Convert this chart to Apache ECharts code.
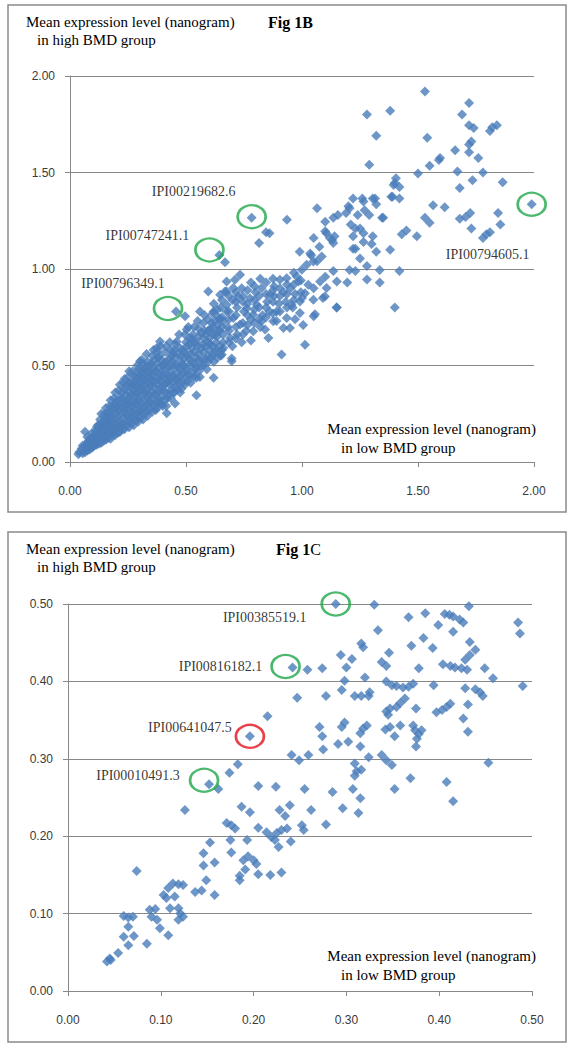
<!DOCTYPE html>
<html><head><meta charset="utf-8">
<script src="https://cdn.jsdelivr.net/npm/echarts@6/dist/echarts.min.js"></script>
<style>html,body{margin:0;padding:0;background:#fff}#c{width:574px;height:1050px}</style>
</head><body><div id="c"></div>
<script>
// ---------- DATA ----------
// Fig 1B: [low BMD group, high BMD group] mean expression (nanogram)
const fig1B_points = [
[1.53,1.92],[1.72,1.86],[1.69,1.80],[1.72,1.745],[1.74,1.73],[1.28,1.80],[1.38,1.82],[1.32,1.69],[1.54,1.68],[1.82,1.735],[1.84,1.745],[1.81,1.715],
[1.66,1.615],[1.72,1.645],[1.73,1.66],[1.72,1.605],[1.76,1.575],[1.595,1.575],[1.59,1.565],[1.55,1.535],[1.29,1.54],[1.50,1.495],[1.67,1.505],[1.78,1.50],[1.865,1.45],[1.735,1.46],[1.68,1.42],
[1.405,1.47],[1.40,1.445],[1.42,1.425],[1.39,1.375],[1.42,1.365],[1.395,1.435],[1.385,1.375],[1.565,1.33],[1.615,1.32],[1.99,1.335],[1.845,1.29],[1.855,1.23],[1.725,1.29],[1.705,1.27],[1.68,1.26],[1.73,1.21],[1.795,1.18],[1.81,1.19],[1.78,1.16],[1.53,1.265],[1.55,1.24],[1.45,1.20],[1.43,1.18],[1.495,1.17],
[1.22,1.365],[1.26,1.365],[1.315,1.365],[1.32,1.335],[1.29,1.28],[1.345,1.265],[1.205,1.315],[1.19,1.29],[1.065,1.315],[0.935,1.255],[1.10,1.245],[1.135,1.265],[1.155,1.28],[1.21,1.23],[1.23,1.21],[1.25,1.21],[1.24,1.28],[1.27,1.305],[1.265,1.35],[1.305,1.365],[1.20,1.325],[1.35,1.265],
[1.05,1.16],[1.105,1.185],[1.12,1.16],[1.135,1.135],[1.22,1.17],[1.265,1.14],[1.30,1.13],[1.32,1.09],[1.38,1.10],[1.265,1.185],[1.305,1.17],[1.22,1.105],
[1.42,0.99],[1.25,1.055],[1.23,1.105],[0.99,1.09],[1.04,1.07],[1.085,1.065],[1.065,1.04],[1.035,1.08],[1.075,1.115],[1.10,1.195],[1.13,1.15],[1.14,1.17],
[1.205,0.995],[1.23,0.99],[1.28,0.945],[1.335,0.995],[1.335,0.93],[1.195,0.93],[1.28,1.015],[1.40,0.80],[1.15,0.80],[1.09,0.85],[1.05,0.90],[1.05,0.755],[1.10,0.96],[1.135,0.99],[1.15,0.935],[1.005,0.71],
[0.783,1.266],[0.86,1.185],[0.845,1.19],[0.815,1.135],[0.644,1.073],[0.668,1.035],
[0.733,0.97],[0.711,0.944],[0.675,0.935],[0.668,0.884],[0.704,0.901],[0.725,0.858],[0.776,0.849],[0.826,0.901],[0.862,0.867],[0.905,0.944],[0.934,0.952],[0.977,0.961],[0.999,0.996],[1.02,1.022],[1.049,1.039],[0.984,0.935],[1.027,0.918],[1.078,0.935],[1.106,0.901],[1.099,0.858],[1.149,0.801],[1.013,0.875],[1.049,0.841],[0.991,0.832],[0.955,0.815],[0.991,0.772],[1.056,0.766],[0.934,0.746],[0.92,0.694],[0.948,0.694],[1.013,0.608],[0.912,0.557],[0.855,0.642],[0.826,0.729],[0.79,0.763],[0.762,0.797],[0.805,0.815],[0.891,0.78],[0.876,0.729],[0.841,0.686],[0.79,0.677],[0.733,0.712],[0.704,0.746],[0.675,0.815],[0.661,0.729],[0.69,0.642],[0.661,0.591],[0.697,0.522],[0.654,0.557],
[0.80,0.88],[0.85,0.83],[0.88,0.86],[0.92,0.88],[0.95,0.90],[0.97,0.87],[0.90,0.82],[0.86,0.78],[0.83,0.76],[0.78,0.74],[0.75,0.78],[0.72,0.80],[0.70,0.84],[0.74,0.90],[0.78,0.93],[0.82,0.95],[0.88,0.91],[0.93,0.83],[0.96,0.80],[1.0,0.85],[0.97,0.74],[0.89,0.73],[0.82,0.70],[0.76,0.68],[0.72,0.66],[0.70,0.60],[0.74,0.62],[0.78,0.63],[0.68,0.70],[0.64,0.68],[0.63,0.62],[0.66,0.66],
[0.596,0.884],[0.647,0.867],[0.675,0.884],[0.56,0.78],[0.496,0.755],[0.503,0.686],[0.46,0.625],[0.388,0.625],[0.374,0.591],[0.302,0.522],[0.619,0.78],[0.675,0.78],[0.545,0.436],[0.619,0.436],[0.545,0.346],[0.453,0.303],[0.417,0.252],[0.697,0.536],[0.065,0.157],[0.036,0.04],[0.457,0.78],
[0.04,0.05],[0.05,0.07],[0.06,0.06],[0.07,0.09],[0.08,0.07],[0.08,0.11],[0.09,0.10],[0.10,0.13],[0.10,0.08],[0.11,0.16],[0.12,0.11],[0.12,0.19],
[0.13,0.14],[0.13,0.22],[0.14,0.18],[0.15,0.12],[0.15,0.25],[0.16,0.16],[0.16,0.21],[0.17,0.29],[0.17,0.14],[0.18,0.19],[0.18,0.24],[0.19,0.33],[0.19,0.16],[0.20,0.22],[0.20,0.28],[0.21,0.37],[0.21,0.18],
[0.22,0.25],[0.22,0.31],[0.23,0.41],[0.23,0.20],[0.24,0.28],[0.24,0.35],[0.25,0.44],[0.25,0.23],[0.26,0.31],[0.26,0.39],[0.27,0.47],[0.27,0.26],[0.28,0.34],[0.28,0.42],[0.29,0.22],[0.29,0.50],[0.30,0.29],[0.30,0.37],[0.30,0.45],
[0.31,0.25],[0.31,0.53],[0.32,0.32],[0.32,0.40],[0.32,0.48],[0.33,0.27],[0.33,0.56],[0.34,0.35],[0.34,0.44],[0.35,0.51],[0.35,0.30],[0.36,0.39],[0.36,0.58],[0.37,0.47],[0.37,0.27],[0.38,0.33],[0.38,0.54],[0.39,0.42],[0.39,0.60],[0.40,0.37],[0.40,0.50],[0.40,0.29],
[0.41,0.57],[0.42,0.45],[0.42,0.33],[0.43,0.62],[0.43,0.40],[0.44,0.52],[0.45,0.36],[0.45,0.58],[0.46,0.46],[0.47,0.41],[0.47,0.66],[0.48,0.55],[0.48,0.38],[0.49,0.50],[0.50,0.62],[0.50,0.44],[0.51,0.70],
[0.52,0.41],[0.52,0.56],[0.53,0.66],[0.54,0.48],[0.55,0.73],[0.55,0.60],[0.56,0.44],[0.57,0.53],[0.58,0.68],[0.58,0.76],[0.59,0.48],[0.60,0.58],[0.60,0.64],[0.61,0.72],[0.62,0.52],[0.62,0.82],[0.63,0.58],[0.64,0.75],[0.65,0.55],[0.65,0.80],[0.66,0.62],
[0.055,0.045],[0.055,0.085],[0.075,0.06],[0.075,0.10],[0.075,0.13],[0.095,0.075],[0.095,0.115],[0.095,0.15],[0.115,0.09],[0.115,0.13],[0.115,0.18],
[0.135,0.10],[0.135,0.16],[0.135,0.20],[0.135,0.25],[0.155,0.115],[0.155,0.145],[0.155,0.19],[0.155,0.23],[0.155,0.28],[0.175,0.12],[0.175,0.165],[0.175,0.21],[0.175,0.26],[0.175,0.32],
[0.195,0.14],[0.195,0.19],[0.195,0.25],[0.195,0.30],[0.195,0.36],[0.215,0.155],[0.215,0.21],[0.215,0.27],[0.215,0.33],[0.215,0.40],
[0.235,0.17],[0.235,0.23],[0.235,0.26],[0.235,0.30],[0.235,0.38],[0.235,0.43],[0.255,0.18],[0.255,0.21],[0.255,0.27],[0.255,0.33],[0.255,0.36],[0.255,0.41],[0.255,0.47],
[0.275,0.19],[0.275,0.24],[0.275,0.29],[0.275,0.31],[0.275,0.37],[0.275,0.40],[0.275,0.45],[0.295,0.21],[0.295,0.26],[0.295,0.32],[0.295,0.34],[0.295,0.40],[0.295,0.43],[0.295,0.48],
[0.315,0.22],[0.315,0.28],[0.315,0.35],[0.315,0.37],[0.315,0.43],[0.315,0.46],[0.315,0.51],[0.335,0.24],[0.335,0.30],[0.335,0.33],[0.335,0.38],[0.335,0.41],[0.335,0.47],[0.335,0.52],
[0.355,0.26],[0.355,0.33],[0.355,0.36],[0.355,0.42],[0.355,0.45],[0.355,0.48],[0.355,0.55],[0.375,0.28],[0.375,0.31],[0.375,0.36],[0.375,0.40],[0.375,0.44],[0.375,0.51],[0.375,0.57],
[0.395,0.30],[0.395,0.34],[0.395,0.39],[0.395,0.45],[0.395,0.47],[0.395,0.53],[0.415,0.29],[0.415,0.36],[0.415,0.41],[0.415,0.43],[0.415,0.49],[0.415,0.52],[0.415,0.60],
[0.435,0.33],[0.435,0.37],[0.435,0.44],[0.435,0.47],[0.435,0.55],[0.435,0.58],[0.455,0.39],[0.455,0.43],[0.455,0.50],[0.455,0.54],[0.455,0.61],[0.475,0.36],[0.475,0.44],[0.475,0.48],[0.475,0.52],[0.475,0.59],
[0.495,0.40],[0.495,0.47],[0.495,0.54],[0.495,0.57],[0.495,0.66],[0.515,0.45],[0.515,0.50],[0.515,0.53],[0.515,0.61],[0.515,0.64],[0.535,0.44],[0.535,0.51],[0.535,0.57],[0.535,0.62],[0.535,0.70],
[0.555,0.47],[0.555,0.53],[0.555,0.56],[0.555,0.65],[0.555,0.69],[0.575,0.50],[0.575,0.57],[0.575,0.61],[0.575,0.64],[0.575,0.72],[0.595,0.52],[0.595,0.55],[0.595,0.62],[0.595,0.68],[0.595,0.74],
[0.615,0.55],[0.615,0.60],[0.615,0.66],[0.615,0.70],[0.615,0.77],[0.635,0.54],[0.635,0.65],[0.635,0.71],[0.635,0.79],[0.655,0.58],[0.655,0.70],[0.655,0.75],[0.655,0.84],
[0.685,0.62],[0.685,0.68],[0.685,0.74],[0.685,0.78],[0.685,0.86],[0.715,0.64],[0.715,0.70],[0.715,0.76],[0.715,0.83],[0.715,0.88],[0.745,0.66],[0.745,0.72],[0.745,0.83],[0.745,0.86],
[0.765,0.71],[0.765,0.76],[0.765,0.82],[0.765,0.89],[0.795,0.72],[0.795,0.79],[0.795,0.84],[0.795,0.91],[0.815,0.74],[0.815,0.80],[0.815,0.86],
[0.845,0.75],[0.845,0.80],[0.845,0.87],[0.845,0.93],[0.875,0.77],[0.875,0.83],[0.875,0.89],[0.875,0.95],[0.905,0.78],[0.905,0.86],[0.905,0.90],
[0.935,0.80],[0.935,0.87],[0.935,0.92],[0.965,0.84],[0.965,0.92],[0.965,0.98],[0.995,0.88],[0.995,0.94],
[0.065,0.05],[0.065,0.075],[0.085,0.065],[0.085,0.09],[0.085,0.12],[0.105,0.085],[0.105,0.105],[0.105,0.14],[0.125,0.095],[0.125,0.125],[0.125,0.155],[0.125,0.175],
[0.145,0.11],[0.145,0.14],[0.145,0.165],[0.145,0.21],[0.165,0.125],[0.165,0.15],[0.165,0.185],[0.165,0.235],[0.165,0.26],[0.185,0.14],[0.185,0.17],[0.185,0.215],[0.185,0.27],[0.185,0.29],
[0.205,0.15],[0.205,0.18],[0.205,0.24],[0.205,0.29],[0.205,0.32],[0.225,0.17],[0.225,0.20],[0.225,0.28],[0.225,0.33],[0.225,0.36],[0.245,0.19],[0.245,0.245],[0.245,0.30],[0.245,0.32],[0.245,0.39],
[0.265,0.20],[0.265,0.23],[0.265,0.285],[0.265,0.35],[0.265,0.41],[0.285,0.215],[0.285,0.255],[0.285,0.30],[0.285,0.36],[0.285,0.385],[0.285,0.44],
[0.305,0.23],[0.305,0.27],[0.305,0.31],[0.305,0.39],[0.305,0.415],[0.305,0.47],[0.325,0.25],[0.325,0.29],[0.325,0.36],[0.325,0.42],[0.325,0.45],[0.325,0.49],
[0.345,0.27],[0.345,0.315],[0.345,0.39],[0.345,0.43],[0.345,0.46],[0.345,0.50],[0.365,0.29],[0.365,0.35],[0.365,0.415],[0.365,0.47],[0.365,0.53],
[0.385,0.31],[0.385,0.37],[0.385,0.43],[0.385,0.49],[0.385,0.55],[0.405,0.32],[0.405,0.395],[0.405,0.455],[0.405,0.51],[0.425,0.35],[0.425,0.42],[0.425,0.49],[0.425,0.53],
[0.445,0.36],[0.445,0.41],[0.445,0.45],[0.445,0.50],[0.445,0.56],[0.465,0.38],[0.465,0.43],[0.465,0.49],[0.465,0.56],[0.485,0.41],[0.485,0.46],[0.485,0.51],[0.485,0.58],
[0.505,0.42],[0.505,0.48],[0.505,0.55],[0.505,0.60],[0.525,0.46],[0.525,0.52],[0.525,0.59],[0.525,0.64],[0.545,0.49],[0.545,0.54],[0.545,0.62],[0.565,0.50],[0.565,0.59],[0.565,0.67],
[0.585,0.53],[0.585,0.60],[0.585,0.66],[0.605,0.54],[0.605,0.61],[0.605,0.69],[0.625,0.57],[0.625,0.66],[0.625,0.73],[0.645,0.60],[0.645,0.68],[0.645,0.74]
];
const fig1B_ticks = [0, 0.5, 1.0, 1.5, 2.0];
const fig1B_callouts = ['IPI00219682.6', 'IPI00747241.1', 'IPI00796349.1', 'IPI00794605.1'];
const fig1B_calloutLow = [0.783, 0.644, 0.457, 1.99];
const fig1B_calloutHigh = [1.266, 1.073, 0.78, 1.335];
const fig1B_calloutColor = ['green', 'green', 'green', 'green'];

// Fig 1C
const fig1C_points = [
[0.242,0.418],[0.247,0.379],[0.215,0.355],[0.196,0.329],[0.241,0.305],[0.249,0.298],[0.183,0.293],[0.174,0.282],[0.152,0.267],[0.162,0.261],[0.205,0.265],[0.224,0.264],[0.126,0.234],[0.187,0.238],[0.196,0.231],[0.239,0.240],[0.228,0.234],[0.234,0.226],[0.171,0.217],[0.176,0.214],[0.180,0.210],[0.205,0.211],[0.214,0.205],[0.219,0.199],[0.225,0.204],[0.230,0.208],[0.236,0.210],[0.240,0.193],[0.223,0.195],[0.153,0.192],[0.175,0.195],[0.193,0.195],[0.146,0.178],[0.176,0.179],[0.227,0.186],[0.146,0.162],[0.158,0.166],[0.189,0.169],[0.194,0.174],[0.200,0.169],[0.203,0.164],[0.191,0.157],[0.205,0.151],[0.218,0.150],[0.230,0.153],[0.185,0.149],[0.185,0.143],[0.074,0.155],[0.113,0.139],[0.119,0.138],[0.124,0.137],[0.108,0.133],[0.149,0.143],[0.144,0.130],[0.137,0.128],[0.158,0.124],[0.103,0.124],[0.106,0.120],[0.115,0.122],[0.110,0.107],[0.119,0.107],[0.121,0.100],[0.124,0.096],[0.119,0.092],[0.088,0.105],[0.094,0.106],[0.090,0.096],[0.096,0.092],[0.099,0.081],[0.108,0.072],[0.060,0.097],[0.065,0.095],[0.070,0.096],[0.065,0.083],[0.060,0.070],[0.071,0.071],[0.065,0.059],[0.085,0.061],[0.054,0.049],[0.045,0.042],[0.042,0.038],[0.046,0.040],
[0.2885,0.500],[0.330,0.499],[0.432,0.497],[0.367,0.483],[0.385,0.488],[0.406,0.487],[0.411,0.486],[0.415,0.484],[0.422,0.480],[0.426,0.476],[0.399,0.473],[0.415,0.464],[0.334,0.466],[0.485,0.476],[0.487,0.462],[0.383,0.456],[0.370,0.446],[0.393,0.443],[0.316,0.449],[0.318,0.444],[0.433,0.451],[0.439,0.441],[0.433,0.434],[0.428,0.428],[0.346,0.437],[0.338,0.425],[0.343,0.420],[0.294,0.434],[0.306,0.429],[0.300,0.418],[0.258,0.415],[0.274,0.417],[0.378,0.417],[0.404,0.422],[0.412,0.420],[0.417,0.418],[0.424,0.417],[0.430,0.415],[0.449,0.417],[0.458,0.404],[0.320,0.405],[0.298,0.401],[0.295,0.389],[0.343,0.400],[0.349,0.395],[0.354,0.394],[0.361,0.392],[0.367,0.393],[0.372,0.397],[0.394,0.395],[0.428,0.391],[0.439,0.390],[0.444,0.386],[0.447,0.381],[0.490,0.394],
[0.278,0.381],[0.309,0.381],[0.316,0.381],[0.324,0.381],[0.325,0.386],[0.363,0.378],[0.358,0.372],[0.354,0.367],[0.347,0.365],[0.343,0.361],[0.345,0.357],[0.375,0.365],[0.397,0.360],[0.403,0.363],[0.408,0.367],[0.412,0.371],[0.431,0.370],[0.426,0.352],[0.431,0.335],[0.271,0.341],[0.295,0.341],[0.298,0.347],[0.274,0.329],[0.275,0.312],[0.291,0.319],[0.302,0.322],[0.315,0.333],[0.318,0.339],[0.322,0.343],[0.342,0.338],[0.347,0.341],[0.352,0.329],[0.358,0.343],[0.372,0.343],[0.374,0.337],[0.378,0.332],[0.381,0.337],[0.376,0.326],[0.375,0.316],[0.315,0.316],[0.259,0.305],[0.324,0.302],[0.338,0.305],[0.343,0.298],[0.349,0.292],[0.309,0.294],[0.311,0.284],[0.316,0.286],[0.309,0.278],[0.453,0.295],[0.408,0.270],[0.415,0.245],[0.369,0.275],[0.352,0.261],[0.255,0.261],[0.285,0.257],[0.307,0.261],[0.315,0.249],[0.262,0.234],[0.296,0.236],[0.313,0.230],[0.252,0.214],[0.254,0.208],[0.278,0.215]
];
const fig1C_ticksX = [0, 0.1, 0.2, 0.3, 0.4, 0.5];
const fig1C_ticksY = [0, 0.1, 0.2, 0.3, 0.4, 0.5];
const fig1C_callouts = ['IPI00385519.1', 'IPI00816182.1', 'IPI00641047.5', 'IPI00010491.3'];
const fig1C_calloutLow = [0.2885, 0.242, 0.196, 0.152];
const fig1C_calloutHigh = [0.500, 0.418, 0.329, 0.267];
const fig1C_calloutColor = ['green', 'green', 'red', 'green'];

const axisTitleX = ['Mean expression level (nanogram)', 'in low BMD group'];
const axisTitleY = ['Mean expression level (nanogram)', 'in high BMD group'];

// ---------- STYLE / LAYOUT ----------
const BLUE = '#4a7dba';
const GRID = '#888888';
const RING = { green: '#1fa64a', red: '#e3121b' };
const fig1B_ringOffset = [[0,-1],[-10,-5],[-8,-3],[0,0]];
const fig1B_labelOffset = [[-58,-26],[-72,-19],[-53,-28],[-44,50]];
const fig1C_ringOffset = [[0,0],[-7,-1],[0,0],[-5,-4]];
const fig1C_labelOffset = [[-71,13],[-72,-1],[-60,-9],[-71,-9]];

const serif = '"Liberation Serif", "Times New Roman", serif';
const sans = '"Liberation Sans", Arial, sans-serif';

function xAxis(gi, ticks) {
  return {
    type: 'value', gridIndex: gi,
    min: ticks[0], max: ticks[ticks.length - 1], interval: ticks[1] - ticks[0],
    axisLine: { show: true, onZero: false, lineStyle: { color: GRID, width: 1 } },
    axisTick: { show: true, length: 5, lineStyle: { color: GRID } },
    splitLine: { show: false },
    axisLabel: { formatter: v => v.toFixed(2), color: '#3a3a3a', fontFamily: sans, fontSize: 12, margin: 23 }
  };
}
function yAxis(gi, ticks) {
  return {
    type: 'value', gridIndex: gi,
    min: ticks[0], max: ticks[ticks.length - 1], interval: ticks[1] - ticks[0],
    axisLine: { show: true, onZero: false, lineStyle: { color: GRID, width: 1 } },
    axisTick: { show: true, length: 5, lineStyle: { color: GRID } },
    splitLine: { show: true, lineStyle: { color: GRID, width: 1 } },
    axisLabel: { formatter: v => v.toFixed(2), color: '#3a3a3a', fontFamily: sans, fontSize: 12, margin: 15 }
  };
}
function callSeries(gi, names, lows, highs, colors, ringOff, labOff) {
  return {
    type: 'scatter', xAxisIndex: gi, yAxisIndex: gi, z: 5,
    symbol: 'circle', symbolSize: [28, 23],
    data: names.map((n, i) => ({
      name: n, value: [lows[i], highs[i]],
      symbolOffset: ringOff[i],
      itemStyle: { color: 'rgba(0,0,0,0)', borderColor: RING[colors[i]], borderWidth: 2.5 },
      label: { offset: [labOff[i][0] - ringOff[i][0], labOff[i][1] - ringOff[i][1]] }
    })),
    label: { show: true, position: 'inside', formatter: p => p.name, color: '#000', fontFamily: serif, fontSize: 14 },
    emphasis: { disabled: true }, silent: true
  };
}
function pointSeries(gi, pts) {
  return {
    type: 'scatter', xAxisIndex: gi, yAxisIndex: gi, z: 3,
    symbol: 'diamond', symbolSize: 10,
    itemStyle: { color: BLUE },
    data: pts, emphasis: { disabled: true }, silent: true
  };
}
function txt(x, y, text, opt) {
  return { type: 'text', x: x, y: y, silent: true,
    style: Object.assign({ text: text, font: '15px ' + serif, fill: '#000', textVerticalAlign: 'middle' }, opt || {}) };
}

const P2 = 527; // vertical shift of the second panel
const graphics = [
  { type: 'rect', silent: true, shape: { x: 8, y: 5, width: 558, height: 507 }, style: { fill: 'none', stroke: '#8a8a8a', lineWidth: 1.5 } },
  { type: 'rect', silent: true, shape: { x: 8, y: 5 + P2, width: 558, height: 510 }, style: { fill: 'none', stroke: '#8a8a8a', lineWidth: 1.5 } },
  txt(26, 22, axisTitleY[0]), txt(37, 40, axisTitleY[1]),
  txt(268, 22, 'Fig 1B', { font: 'bold 16px ' + serif }),
  txt(536, 429, axisTitleX[0], { textAlign: 'right' }), txt(341, 448, axisTitleX[1]),
  txt(26, 22 + P2, axisTitleY[0]), txt(37, 40 + P2, axisTitleY[1]),
  { type: 'text', x: 276, y: 22 + P2, silent: true, style: { text: '{b|Fig 1}{r|C}', textVerticalAlign: 'middle', rich: { b: { font: 'bold 16px ' + serif, fill: '#000' }, r: { font: '16px ' + serif, fill: '#000' } } } },
  txt(536, 429 + P2, axisTitleX[0], { textAlign: 'right' }), txt(341, 448 + P2, axisTitleX[1])
];

const chart = echarts.init(document.getElementById('c'), null, { renderer: 'svg', width: 574, height: 1050 });
chart.setOption({
  animation: false,
  backgroundColor: '#fff',
  grid: [
    { left: 70, top: 76, width: 464, height: 386 },
    { left: 68, top: 604, width: 464, height: 387 }
  ],
  xAxis: [xAxis(0, fig1B_ticks), xAxis(1, fig1C_ticksX)],
  yAxis: [yAxis(0, fig1B_ticks), yAxis(1, fig1C_ticksY)],
  series: [
    pointSeries(0, fig1B_points),
    callSeries(0, fig1B_callouts, fig1B_calloutLow, fig1B_calloutHigh, fig1B_calloutColor, fig1B_ringOffset, fig1B_labelOffset),
    pointSeries(1, fig1C_points),
    callSeries(1, fig1C_callouts, fig1C_calloutLow, fig1C_calloutHigh, fig1C_calloutColor, fig1C_ringOffset, fig1C_labelOffset)
  ],
  graphic: graphics
});
</script>
</body></html>
